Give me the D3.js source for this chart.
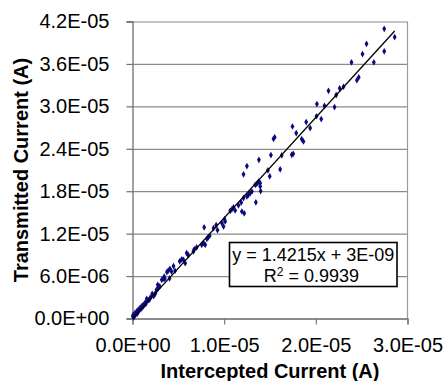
<!DOCTYPE html>
<html>
<head>
<meta charset="utf-8">
<script src="https://cdn.jsdelivr.net/npm/d3@7"></script>
<style>
  body { margin: 0; background: #fff; }
  svg { display: block; }
  text { font-family: "Liberation Sans", Arial, sans-serif; fill: #000; }
</style>
</head>
<body>
<svg id="chart" width="446" height="381"></svg>
<script>
// Measured currents, in microamps (converted to amps below)
const interceptedMicroA = [
  27.46, 28.60, 25.53, 25.09, 27.46, 23.89, 26.33, 24.68, 24.48, 23.02,
  22.60, 22.22, 21.38, 20.12, 20.94, 22.04, 20.07, 20.59, 18.95, 19.38,
  17.45, 17.86, 18.46, 18.65, 15.38, 15.51, 15.10, 16.28, 17.37, 17.53,
  16.11, 13.79, 12.48, 12.11, 14.77, 14.97, 13.75, 13.57, 13.93, 13.39,
  13.93, 13.98, 13.03, 12.84, 12.65, 12.48, 12.11, 13.46, 11.86, 11.56,
  11.02, 10.84, 11.20, 11.93, 12.19, 10.66, 10.04, 10.11, 9.75, 9.93,
  9.13, 8.84, 7.82, 9.27, 8.42, 8.26, 8.12, 7.75, 7.55, 7.93,
  7.00, 6.73, 6.65, 6.08, 5.91, 5.56, 5.37, 5.15, 5.75, 4.47,
  4.64, 4.08, 3.89, 4.25, 3.75, 3.46, 3.35, 3.19, 3.53, 4.04,
  2.97, 2.75, 2.80, 2.62, 2.40, 2.15, 2.07, 1.90, 1.55, 1.53,
  1.35, 1.17, 0.98, 0.81, 0.62, 0.44, 0.26, 0.08, 0.03, 0.20,
  0.35, 0.55, 0.70, 0.90, 1.10, 1.25, 1.45, 1.70, 1.85, 2.30,
  2.50, 0.15, 0.50, 1.00
];
const transmittedMicroA = [
  40.97, 39.80, 38.85, 37.39, 37.79, 36.23, 36.23, 34.11, 33.69, 32.77,
  32.56, 31.59, 32.20, 30.32, 30.08, 29.90, 28.60, 28.20, 27.78, 26.93,
  27.15, 26.22, 25.37, 25.03, 25.41, 25.63, 23.11, 23.08, 23.15, 23.29,
  21.10, 22.44, 21.55, 20.39, 20.96, 20.11, 19.37, 19.05, 19.15, 18.91,
  18.67, 18.02, 17.96, 17.73, 17.49, 17.25, 17.03, 16.43, 16.40, 16.01,
  15.73, 15.44, 15.27, 15.13, 14.88, 15.23, 14.03, 13.72, 13.49, 13.01,
  13.21, 12.78, 12.90, 12.50, 11.70, 11.48, 11.27, 10.66, 10.42, 10.42,
  10.07, 9.79, 9.48, 8.97, 9.25, 8.30, 8.37, 8.09, 7.83, 7.41,
  6.75, 7.03, 6.75, 6.65, 6.56, 5.94, 5.61, 5.47, 5.61, 5.66,
  4.55, 4.77, 4.30, 4.06, 3.35, 3.49, 3.11, 2.88, 2.79, 2.40,
  2.18, 1.94, 1.70, 1.47, 1.23, 0.99, 0.76, 0.52, 0.31, 0.35,
  0.60, 0.85, 1.05, 1.35, 1.60, 1.85, 2.05, 2.55, 2.65, 3.20,
  3.60, 0.15, 0.65, 1.45
];

// Linear trendline fitted to the data
const trendSlope = 1.4215;
const trendIntercept = 3e-9;
const trendR2 = 0.9939;

// Axis ticks and their labels
const xTicks = [0, 1e-5, 2e-5, 3e-5];
const xTickLabels = ["0.0E+00", "1.0E-05", "2.0E-05", "3.0E-05"];
const yTicks = [0, 6e-6, 1.2e-5, 1.8e-5, 2.4e-5, 3.0e-5, 3.6e-5, 4.2e-5];
const yTickLabels = ["0.0E+00", "6.0E-06", "1.2E-05", "1.8E-05", "2.4E-05", "3.0E-05", "3.6E-05", "4.2E-05"];

const xTitle = "Intercepted Current (A)";
const yTitle = "Transmitted Current (A)";

const points = interceptedMicroA.map((v, i) => ({ x: v * 1e-6, y: transmittedMicroA[i] * 1e-6 }));

const svg = d3.select("#chart");
const plot = { left: 132.5, right: 407.5, top: 21.5, bottom: 318.5 };

const x = d3.scaleLinear().domain([0, 3e-5]).range([plot.left, plot.right]);
const y = d3.scaleLinear().domain([0, 4.2e-5]).range([plot.bottom, plot.top]);

svg.append("rect").attr("width", 446).attr("height", 381).attr("fill", "#fff");

// Horizontal gridlines (extend left as tick marks)
const grid = svg.append("g").attr("transform", `translate(${plot.left},0)`)
  .call(d3.axisLeft(y).tickValues(yTicks).tickSize(-(plot.right - plot.left)).tickFormat(""));
grid.select(".domain").remove();
grid.selectAll(".tick line").attr("stroke", "#8a8a8a").attr("stroke-width", 1.2);

// Right border of the plot area
svg.append("line")
  .attr("x1", plot.right).attr("x2", plot.right)
  .attr("y1", plot.top).attr("y2", plot.bottom)
  .attr("stroke", "#9a9a9a").attr("stroke-width", 1.2);

// Y axis
const yAxis = svg.append("g").attr("transform", `translate(${plot.left},0)`)
  .call(d3.axisLeft(y).tickValues(yTicks).tickFormat((d, i) => yTickLabels[i]).tickSize(6).tickPadding(17));
yAxis.select(".domain").attr("stroke", "#6f6f6f").attr("stroke-width", 1.3);
yAxis.selectAll(".tick line").attr("stroke", "#6f6f6f").attr("stroke-width", 1.2);
yAxis.selectAll(".tick text")
  .attr("font-size", 20).attr("font-family", "Liberation Sans, Arial, sans-serif").attr("fill", "#000");

// X axis
const xAxis = svg.append("g").attr("transform", `translate(0,${plot.bottom})`)
  .call(d3.axisBottom(x).tickValues(xTicks).tickFormat((d, i) => xTickLabels[i]).tickSize(6).tickPadding(13));
xAxis.select(".domain").attr("stroke", "#7a7a7a").attr("stroke-width", 1.3);
xAxis.selectAll(".tick line").attr("stroke", "#7a7a7a").attr("stroke-width", 1.2);
xAxis.selectAll(".tick text")
  .attr("font-size", 20).attr("font-family", "Liberation Sans, Arial, sans-serif").attr("fill", "#000");

// Data points
svg.append("g").selectAll("path")
  .data(points)
  .join("path")
  .attr("transform", d => `translate(${x(d.x)},${y(d.y)})`)
  .attr("d", d3.symbol(d3.symbolDiamond, 13))
  .attr("fill", "#0a0a80");

// Trendline across the data range
const xExtent = d3.extent(points, d => d.x);
svg.append("line")
  .attr("x1", x(xExtent[0])).attr("y1", y(trendSlope * xExtent[0] + trendIntercept))
  .attr("x2", x(xExtent[1])).attr("y2", y(trendSlope * xExtent[1] + trendIntercept))
  .attr("stroke", "#000").attr("stroke-width", 1.3);

// Equation label
const eq = svg.append("g");
eq.append("rect")
  .attr("x", 229.5).attr("y", 242.5).attr("width", 167.5).attr("height", 44)
  .attr("fill", "#fff").attr("stroke", "#000").attr("stroke-width", 1.6);
eq.append("text")
  .attr("x", 313.3).attr("y", 261).attr("text-anchor", "middle").attr("font-size", 18)
  .text(`y = ${trendSlope}x + ${trendIntercept.toExponential(0).toUpperCase().replace("E-", "E-0")}`);
const r2 = eq.append("text")
  .attr("x", 311.5).attr("y", 282).attr("text-anchor", "middle").attr("font-size", 18);
r2.append("tspan").text("R");
r2.append("tspan").attr("font-size", 12).attr("dy", -6).text("2");
r2.append("tspan").attr("dy", 6).text(` = ${trendR2}`);

// Axis titles
svg.append("text")
  .attr("x", (plot.left + plot.right) / 2).attr("y", 378)
  .attr("text-anchor", "middle").attr("font-size", 20).attr("font-weight", "bold")
  .text(xTitle);
svg.append("text")
  .attr("transform", `translate(28,${(plot.top + plot.bottom) / 2}) rotate(-90)`)
  .attr("text-anchor", "middle").attr("font-size", 20).attr("font-weight", "bold")
  .text(yTitle);
</script>
</body>
</html>
